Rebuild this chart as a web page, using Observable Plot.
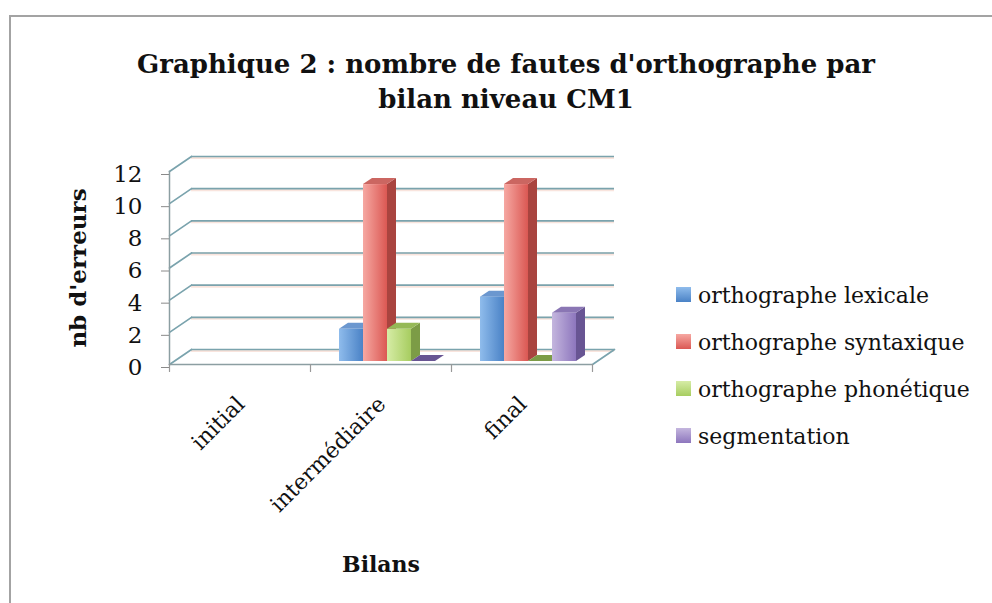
<!DOCTYPE html>
<html><head><meta charset="utf-8">
<script src="https://cdn.jsdelivr.net/npm/d3@7"></script>
<script src="https://cdn.jsdelivr.net/npm/@observablehq/plot@0.6"></script>
<style>
body{margin:0;background:#fff;font-family:"DejaVu Serif",serif;color:#111;}
#wrap{position:relative;width:992px;height:603px;overflow:hidden;background:#fff;}
#border{position:absolute;left:9px;top:15px;width:1100px;height:700px;border:2px solid #a3a3a3;box-sizing:border-box;}
#title{position:absolute;left:0;width:1012px;top:47px;text-align:center;font-weight:bold;font-size:26px;line-height:35px;}
#chart{position:absolute;left:0;top:130px;}
#legend{position:absolute;left:676px;top:281px;font-size:22px;}
.item{position:absolute;left:0;white-space:nowrap;height:30px;}
.sw{position:absolute;left:0;top:6px;width:15px;height:15px;}
.lab{position:absolute;left:22px;top:0;line-height:30px;}
g[aria-label$="axis label"] text{font-weight:bold;}
</style></head>
<body>
<div id="wrap">
  <div id="border"></div>
  <div id="title">Graphique 2 : nombre de fautes d'orthographe par<br>bilan niveau CM1</div>
  <div id="chart"></div>
  <div id="legend"></div>
</div>
<script>
const bilans = ["initial", "intermédiaire", "final"];
const series = ["orthographe lexicale", "orthographe syntaxique", "orthographe phonétique", "segmentation"];
const lexicale = [null, 2, 4];
const syntaxique = [null, 11, 11];
const phonetique = [null, 2, 0];
const segmentation = [null, 0, 3];
const yTicks = [0, 2, 4, 6, 8, 10, 12];
const fronts = [["#8fbcec", "#4a82c6"], ["#f6a8a2", "#db5853"], ["#d6eca6", "#a7cd60"], ["#c4b6de", "#8d76bd"]];
const tops = ["#6b97cf", "#cb6661", "#95b957", "#8a76b4"];
const sides = ["#3f6ca9", "#a9443f", "#7c9c46", "#685593"];

const seriesValues = [lexicale, syntaxique, phonetique, segmentation];
const data = [];
bilans.forEach((b, i) => series.forEach((s, k) => {
  const v = seriesValues[k][i];
  if (v != null) data.push({bilan: b, serie: s, k, value: v});
}));

const WX = 22, WY = -15;          // depth of the 3D walls
const BX = 9, BY = -6;            // depth of a bar
const wallLen = Math.hypot(WX, WY), wallRot = Math.atan2(WX, -WY) * 180 / Math.PI;
const lineShape = {draw(ctx, l) { ctx.moveTo(0, 0); ctx.lineTo(0, -l); }};
const gridC = "#7aa3ad", axisC = "#8c9ea2";
const gridData = bilans.flatMap(b => yTicks.map(t => ({b, t})));

function bar3d(index, scales, values, dimensions, context, next) {
  const g = next(index, scales, values, dimensions, context);
  const ns = "http://www.w3.org/2000/svg";
  for (const r of Array.from(g.querySelectorAll("rect"))) {
    const i = d3.select(r).datum();
    const k = data[i].k;
    const x = +r.getAttribute("x"), y = +r.getAttribute("y");
    const w = +r.getAttribute("width"), h = +r.getAttribute("height");
    const side = document.createElementNS(ns, "path");
    side.setAttribute("d", `M${x + w},${y}L${x + w + BX},${y + BY}L${x + w + BX},${y + h + BY}L${x + w},${y + h}Z`);
    side.setAttribute("fill", sides[k]);
    const top = document.createElementNS(ns, "path");
    top.setAttribute("d", `M${x},${y}L${x + w},${y}L${x + w + BX},${y + BY}L${x + BX},${y + BY}Z`);
    top.setAttribute("fill", h > 0 ? tops[k] : sides[k]);
    g.insertBefore(side, r);
    g.insertBefore(top, r);
    r.setAttribute("fill", `url(#front${k})`);
  }
  return g;
}

const chart = Plot.plot({
  width: 640, height: 473,
  marginTop: 41, marginLeft: 168, marginRight: 48, marginBottom: 239,
  style: {fontFamily: "DejaVu Serif", fontSize: "22px", color: "#111", background: "transparent", overflow: "visible"},
  fx: {domain: bilans, padding: 0, label: "Bilans"},
  x: {domain: series, paddingInner: 0, paddingOuter: 0.827, axis: null},
  y: {domain: [0, 12], label: "nb d'erreurs"},
  color: {domain: series, range: fronts.map(d => d[1])},
  marks: [
    Plot.ruleY(gridData, {fx: "b", y: "t", dx: WX, dy: WY + 1, stroke: "#f2c4b4", strokeWidth: 3, strokeOpacity: 0.45}),
    Plot.ruleY(gridData, {fx: "b", y: "t", dx: WX, dy: WY, stroke: gridC, strokeWidth: 1.7}),
    Plot.vector(yTicks, {y: d => d, anchor: "start", frameAnchor: "left", facetAnchor: "left", rotate: wallRot, length: wallLen, shape: lineShape, stroke: gridC, strokeWidth: 1.7}),
    Plot.vector([0], {anchor: "start", frameAnchor: "bottom-right", facetAnchor: "right", rotate: wallRot, length: wallLen, shape: lineShape, stroke: gridC, strokeWidth: 1.7}),
    Plot.ruleY(bilans, {fx: d => d, y: () => 0, stroke: axisC, strokeWidth: 1.5}),
    Plot.frame({anchor: "left", facetAnchor: "left", stroke: axisC, strokeWidth: 1.5}),
    Plot.vector([0], {anchor: "start", frameAnchor: "bottom-left", rotate: 180, length: 7, shape: lineShape, stroke: "#999", strokeWidth: 1.2}),
    Plot.vector([0], {anchor: "start", frameAnchor: "bottom-right", facetAnchor: "right", rotate: 180, length: 7, shape: lineShape, stroke: "#999", strokeWidth: 1.2}),
    Plot.axisY(yTicks, {anchor: "left", tickSize: 8, tickPadding: 19, dy: 3, stroke: "#8a8a8a", fill: "#111", fontSize: 23, label: "nb d'erreurs", labelArrow: "none", labelAnchor: "center", labelOffset: 100}),
    Plot.axisFx({anchor: "bottom", tickSize: 0, tickPadding: 36, tickRotate: -45, dx: 1, fill: "#111", fontSize: 22, label: "Bilans", labelArrow: "none", labelAnchor: "center", labelOffset: 207}),
    Plot.barY(data, {fx: "bilan", x: "serie", y: "value", fill: "serie", dx: 6, dy: -3, render: bar3d})
  ]
});

const svg = d3.select(chart);
const defs = svg.insert("defs", ":first-child");
fronts.forEach(([a, b], k) => {
  const lg = defs.append("linearGradient").attr("id", `front${k}`).attr("x1", 0).attr("x2", 1).attr("y1", 0).attr("y2", 0);
  lg.append("stop").attr("offset", "0%").attr("stop-color", a);
  lg.append("stop").attr("offset", "100%").attr("stop-color", b);
});
document.getElementById("chart").appendChild(chart);

const legend = d3.select("#legend");
series.forEach((s, k) => {
  const it = legend.append("div").attr("class", "item").style("top", `${k * 47}px`);
  it.append("div").attr("class", "sw").style("background", `linear-gradient(${fronts[k][0]}, ${fronts[k][1]})`);
  it.append("div").attr("class", "lab").text(s);
});
</script>
</body></html>
